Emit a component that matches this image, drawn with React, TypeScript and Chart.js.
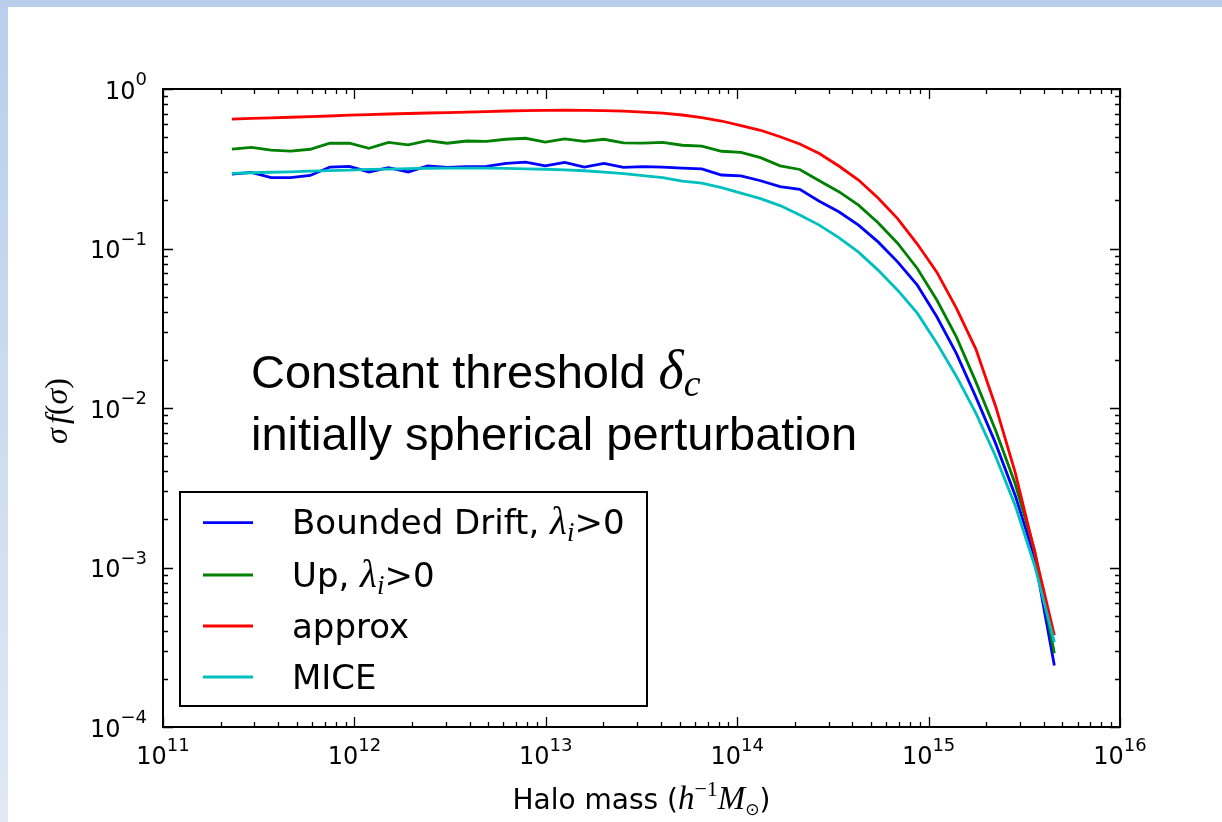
import React, { useEffect, useRef } from "react";
import { Chart, registerables } from "chart.js";

Chart.register(...registerables);

// log10 of halo mass (h^-1 Msun)
const logMass = [
  11.36, 11.462, 11.565, 11.667, 11.769, 11.872, 11.974, 12.076, 12.178, 12.281,
  12.383, 12.485, 12.588, 12.69, 12.792, 12.895, 12.997, 13.099, 13.201, 13.304,
  13.406, 13.508, 13.611, 13.713, 13.815, 13.918, 14.02, 14.122, 14.224, 14.327,
  14.429, 14.531, 14.634, 14.736, 14.838, 14.941, 15.043, 15.145, 15.247, 15.35,
  15.452, 15.554, 15.657,
];

const boundedDrift = [
  0.293, 0.3, 0.278, 0.278, 0.287, 0.324, 0.327, 0.302, 0.321, 0.302,
  0.329, 0.323, 0.326, 0.327, 0.342, 0.348, 0.33, 0.347, 0.324, 0.342,
  0.323, 0.326, 0.324, 0.319, 0.316, 0.289, 0.285, 0.266, 0.244, 0.235,
  0.198, 0.17, 0.14, 0.11, 0.0825, 0.0589, 0.0373, 0.022, 0.0117, 0.006,
  0.00284, 0.00116, 0.000243,
];

const upCrossing = [
  0.42, 0.431, 0.414, 0.408, 0.419, 0.457, 0.457, 0.425, 0.463, 0.446,
  0.474, 0.457, 0.472, 0.47, 0.484, 0.491, 0.465, 0.486, 0.47, 0.484,
  0.46, 0.458, 0.463, 0.444, 0.439, 0.407, 0.401, 0.371, 0.33, 0.313,
  0.266, 0.227, 0.187, 0.145, 0.108, 0.075, 0.0475, 0.0279, 0.01458, 0.00726,
  0.00336, 0.00128, 0.00029,
];

const approx = [
  0.648, 0.654, 0.66, 0.665, 0.671, 0.677, 0.685, 0.691, 0.697, 0.702,
  0.707, 0.712, 0.717, 0.722, 0.728, 0.732, 0.735, 0.736, 0.735, 0.731,
  0.726, 0.717, 0.706, 0.687, 0.662, 0.63, 0.59, 0.551, 0.502, 0.452,
  0.394, 0.329, 0.2686, 0.2071, 0.154, 0.1066, 0.0711, 0.0423, 0.0234, 0.01026,
  0.00396, 0.00125, 0.000376,
];

const mice = [
  0.296, 0.2985, 0.3006, 0.3023, 0.3059, 0.3081, 0.3103, 0.313, 0.3148, 0.3166,
  0.3185, 0.3194, 0.3194, 0.3194, 0.3176, 0.3157, 0.3139, 0.3112, 0.3072, 0.3015,
  0.295, 0.2866, 0.2784, 0.2647, 0.2571, 0.241, 0.2226, 0.2056, 0.1858, 0.162,
  0.1402, 0.1171, 0.0949, 0.0732, 0.0548, 0.0393, 0.0255, 0.01583, 0.00928, 0.00498,
  0.00246, 0.00103, 0.000339,
];

const seriesNames = ["Bounded Drift, ", "Up, ", "approx", "MICE"];
const seriesHasLambda = [true, true, false, false];
const seriesColors = ["#0000ff", "#008000", "#ff0000", "#00bfbf"];
const seriesValues = [boundedDrift, upCrossing, approx, mice];

const xTickExponents = [11, 12, 13, 14, 15, 16];
const yTickExponents = [0, -1, -2, -3, -4];

const SANS = '"DejaVu Sans"';
const SERIF = '"Liberation Serif"';
const ARIAL = '"Liberation Sans"';

type Part = { t: string; f: string; dy?: number };

function partsWidth(ctx: CanvasRenderingContext2D, parts: Part[]) {
  let w = 0;
  for (const p of parts) {
    ctx.font = p.f;
    w += ctx.measureText(p.t).width;
  }
  return w;
}

function drawParts(
  ctx: CanvasRenderingContext2D,
  parts: Part[],
  x: number,
  y: number,
  align: "left" | "center" | "right"
) {
  const w = partsWidth(ctx, parts);
  let cx = align === "left" ? x : align === "center" ? x - w / 2 : x - w;
  ctx.textAlign = "left";
  ctx.textBaseline = "alphabetic";
  for (const p of parts) {
    ctx.font = p.f;
    ctx.fillText(p.t, cx, y + (p.dy || 0));
    cx += ctx.measureText(p.t).width;
  }
}

function supLabel(exp: number): Part[] {
  const e = exp < 0 ? "\u2212" + String(-exp) : String(exp);
  return [
    { t: "10", f: `24px ${SANS}` },
    { t: e, f: `18px ${SANS}`, dy: -13.5 },
  ];
}

const decorPlugin = {
  id: "decor",
  beforeDraw(chart: any) {
    const ctx: CanvasRenderingContext2D = chart.ctx;
    const W = chart.width;
    const H = chart.height;
    ctx.save();
    ctx.fillStyle = "#ffffff";
    ctx.fillRect(0, 0, W, H);
    const g = ctx.createLinearGradient(0, 0, 0, H);
    g.addColorStop(0, "#b8ceec");
    g.addColorStop(1, "#e0e8f4");
    ctx.fillStyle = g;
    ctx.fillRect(0, 0, 8, H);
    ctx.fillStyle = "#b8ceeb";
    ctx.fillRect(0, 0, W, 7);
    ctx.restore();
  },
  afterDraw(chart: any) {
    const ctx: CanvasRenderingContext2D = chart.ctx;
    const { left, right, top, bottom } = chart.chartArea;
    const xs = chart.scales.x;
    const ys = chart.scales.y;
    ctx.save();
    ctx.fillStyle = "#000";
    ctx.strokeStyle = "#000";

    // ticks (inward, all four sides)
    ctx.lineWidth = 1.3;
    ctx.beginPath();
    for (let d = 11; d <= 16; d++) {
      for (let m = 1; m <= 9; m++) {
        const v = m * Math.pow(10, d);
        if (v < 1e11 || v > 1e16) continue;
        const px = Math.round(xs.getPixelForValue(v)) + 0.5;
        const len = m === 1 ? 10 : 5;
        ctx.moveTo(px, bottom);
        ctx.lineTo(px, bottom - len);
        ctx.moveTo(px, top);
        ctx.lineTo(px, top + len);
      }
    }
    for (let d = -4; d <= 0; d++) {
      for (let m = 1; m <= 9; m++) {
        const v = m * Math.pow(10, d);
        if (v < 1e-4 || v > 1) continue;
        const py = Math.round(ys.getPixelForValue(v)) + 0.5;
        const len = m === 1 ? 10 : 5;
        ctx.moveTo(left, py);
        ctx.lineTo(left + len, py);
        ctx.moveTo(right, py);
        ctx.lineTo(right - len, py);
      }
    }
    ctx.stroke();

    // frame
    ctx.lineWidth = 2;
    ctx.strokeRect(left, top, right - left, bottom - top);

    // tick labels
    for (const e of xTickExponents) {
      const px = xs.getPixelForValue(Math.pow(10, e));
      drawParts(ctx, supLabel(e), px, bottom + 37, "center");
    }
    for (const e of yTickExponents) {
      const py = ys.getPixelForValue(Math.pow(10, e));
      drawParts(ctx, supLabel(e), left - 16, py + 9.5, "right");
    }

    // x axis title
    drawParts(
      ctx,
      [
        { t: "Halo mass (", f: `28px ${SANS}` },
        { t: "h", f: `italic 33px ${SERIF}` },
        { t: "\u22121", f: `22px ${SERIF}`, dy: -13 },
        { t: "M", f: `italic 33px ${SERIF}` },
        { t: "\u2299", f: `17px ${SANS}`, dy: 6 },
        { t: ")", f: `28px ${SANS}` },
      ],
      (left + right) / 2,
      809,
      "center"
    );

    // y axis title (rotated)
    ctx.save();
    ctx.translate(58, 411);
    ctx.rotate(-Math.PI / 2);
    drawParts(
      ctx,
      [
        { t: "\u03c3", f: `italic 32px ${SERIF}` },
        { t: " ", f: `16px ${SERIF}` },
        { t: "f", f: `italic 32px ${SERIF}` },
        { t: "(", f: `32px ${SERIF}` },
        { t: "\u03c3", f: `italic 32px ${SERIF}` },
        { t: ")", f: `32px ${SERIF}` },
      ],
      0,
      9,
      "center"
    );
    ctx.restore();

    // annotation
    drawParts(
      ctx,
      [
        { t: "Constant threshold ", f: `47px ${ARIAL}` },
        { t: "\u03b4", f: `italic 54px ${SERIF}` },
        { t: "c", f: `italic 38px ${SERIF}`, dy: 8 },
      ],
      251,
      388,
      "left"
    );
    drawParts(
      ctx,
      [{ t: "initially spherical perturbation", f: `47px ${ARIAL}` }],
      251,
      450,
      "left"
    );

    // legend
    const lx0 = 180, ly0 = 492, lx1 = 647, ly1 = 706;
    ctx.fillStyle = "#fff";
    ctx.fillRect(lx0, ly0, lx1 - lx0, ly1 - ly0);
    ctx.lineWidth = 2;
    ctx.strokeStyle = "#000";
    ctx.strokeRect(lx0, ly0, lx1 - lx0, ly1 - ly0);
    const rows = [522.7, 575, 626, 677];
    seriesNames.forEach((name, i) => {
      const ry = rows[i];
      ctx.strokeStyle = seriesColors[i];
      ctx.lineWidth = 2.8;
      ctx.beginPath();
      ctx.moveTo(203, ry);
      ctx.lineTo(253, ry);
      ctx.stroke();
      ctx.fillStyle = "#000";
      const parts: Part[] = [{ t: name, f: `34px ${SANS}` }];
      if (seriesHasLambda[i]) {
        parts.push({ t: "\u03bb", f: `italic 39px ${SERIF}` });
        parts.push({ t: "i", f: `italic 27px ${SERIF}`, dy: 7 });
        parts.push({ t: ">0", f: `34px ${SANS}` });
      }
      drawParts(ctx, parts, 292, ry + 11.5, "left");
    });

    ctx.restore();
  },
};

export default function App() {
  const ref = useRef<HTMLCanvasElement | null>(null);

  useEffect(() => {
    document.body.style.margin = "0";
    const canvas = ref.current;
    if (!canvas) return;
    const order = [3, 2, 1, 0];
    const datasets = seriesValues.map((vals, i) => ({
      label: seriesNames[i],
      data: vals.map((v, k) => ({ x: Math.pow(10, logMass[k]), y: v })),
      borderColor: seriesColors[i],
      backgroundColor: seriesColors[i],
      borderWidth: 2.8,
      pointRadius: 0,
      tension: 0,
      fill: false,
      order: order[i],
    }));
    const chart = new Chart(canvas, {
      type: "line",
      data: { datasets },
      options: {
        animation: false,
        responsive: false,
        devicePixelRatio: 1,
        layout: { padding: { top: 89, right: 102, left: 0, bottom: 0 } },
        plugins: { legend: { display: false }, tooltip: { enabled: false } },
        scales: {
          x: {
            type: "logarithmic",
            min: 1e11,
            max: 1e16,
            ticks: { display: false },
            grid: { display: false, drawTicks: false },
            border: { display: false },
            afterFit: (s: any) => {
              s.height = 95;
            },
          },
          y: {
            type: "logarithmic",
            min: 1e-4,
            max: 1,
            ticks: { display: false },
            grid: { display: false, drawTicks: false },
            border: { display: false },
            afterFit: (s: any) => {
              s.width = 163;
            },
          },
        },
      } as any,
      plugins: [decorPlugin],
    });
    return () => chart.destroy();
  }, []);

  return (
    <div style={{ position: "fixed", left: 0, top: 0, width: 1222, height: 822 }}>
      <canvas ref={ref} width={1222} height={822} style={{ width: 1222, height: 822, display: "block" }} />
    </div>
  );
}
